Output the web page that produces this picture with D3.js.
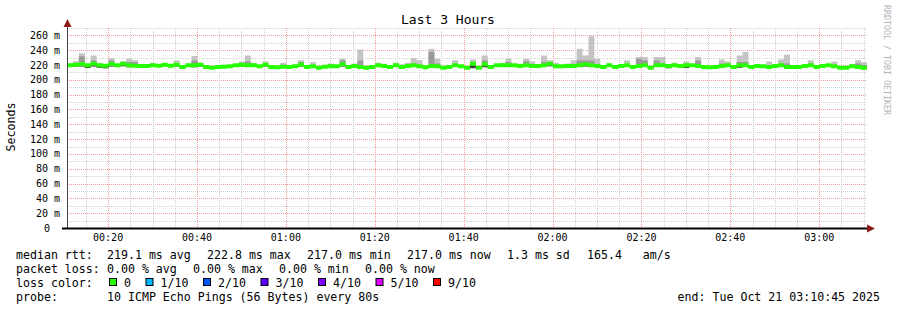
<!DOCTYPE html>
<html>
<head>
<meta charset="utf-8">
<script src="https://cdn.jsdelivr.net/npm/d3@7"></script>
<style>
  body { margin: 0; background: #fff; }
  text { font-family: "DejaVu Sans Mono", monospace; white-space: pre; }
</style>
</head>
<body>
<div id="chart"></div>
<script>
// smokeping "Last 3 Hours", one sample every 80 s
var endTime = new Date(2025, 9, 21, 3, 10, 45);
var stepSec = 80;

var median = [
  219.6, 220.4, 221.3, 219.6, 221.8, 219.6, 219.1, 221.3, 219.6, 221.8,
  219.6, 219.1, 218.7, 218.7, 219.6, 219.1, 220.4, 219.1, 220.4, 217.3,
  219.6, 219.6, 220.4, 217.3, 216.4, 217.3, 217.8, 218.2, 219.6, 220.4,
  219.6, 219.6, 218.2, 220.4, 217.3, 216.9, 217.8, 217.3, 218.2, 220.4,
  217.3, 218.2, 216.4, 217.8, 218.2, 218.2, 220.9, 217.3, 218.7,
  217.3, 216.4, 217.3, 219.6, 218.7, 217.3, 219.6, 217.3, 218.7, 219.6,
  218.2, 216.9, 218.7, 218.2, 216.4, 217.3, 219.6, 218.2, 216.4, 221.8,
  216.4, 220.9, 217.3, 219.6, 219.6, 219.6, 219.6, 218.7, 219.6, 218.7,
  218.7, 219.6, 221.8, 218.2, 218.2, 218.7, 218.7, 219.6, 220.9, 219.6,
  218.7, 217.3, 219.6, 217.3, 218.7, 219.6, 217.3, 218.7, 219.6,
  216.4, 219.6, 219.6, 218.7, 219.6, 218.7, 219.6, 219.6, 218.7, 217.3,
  216.9, 217.3, 218.7, 219.6, 217.3, 219.6, 219.6, 217.3, 218.7, 218.2,
  217.3, 218.7, 219.6, 217.3, 217.3, 217.3, 218.7, 219.6, 217.3, 218.7,
  219.6, 218.2, 216.4, 216.4, 218.2, 217.3, 216.4
];
var rttMax = [
  221.5, 225.0, 236.0, 221.0, 233.0, 222.7, 220.0, 229.4, 220.5, 225.0,
  228.5, 226.3, 219.5, 219.5, 222.7, 220.0, 222.2, 220.0, 226.3, 218.5,
  220.5, 232.1, 223.1, 218.0, 217.0, 218.0, 220.4, 219.5, 221.3, 224.9,
  233.0, 223.1, 219.5, 224.9, 218.5, 218.0, 223.1, 218.5, 220.4, 226.3,
  218.5, 223.6, 217.5, 218.5, 222.2, 219.0, 228.5, 218.5, 222.2,
  241.0, 218.0, 218.5, 223.0, 221.8, 218.5, 223.1, 220.9, 223.1, 229.4,
  226.3, 218.0, 242.0, 228.5, 218.0, 218.5, 226.3, 219.5, 217.5, 227.6,
  217.5, 233.0, 218.5, 221.0, 223.1, 228.5, 220.5, 221.8, 228.5, 224.9,
  219.8, 233.0, 226.3, 223.0, 219.5, 222.0, 226.3, 242.0, 233.0, 259.0,
  228.5, 218.5, 221.0, 218.5, 219.8, 226.3, 218.5, 230.8, 230.8,
  218.0, 230.8, 230.8, 220.0, 223.1, 219.8, 224.9, 220.5, 230.8, 218.5,
  218.0, 219.6, 227.6, 224.9, 218.5, 233.0, 237.5, 218.5, 219.8, 219.5,
  224.9, 219.8, 227.6, 234.0, 218.5, 218.5, 219.8, 226.3, 218.5, 219.8,
  220.4, 224.9, 217.5, 217.5, 221.5, 226.3, 223.6
];
var rttUpper = [
  220.5, 222.0, 231.7, 220.0, 226.0, 220.5, 219.5, 226.0, 220.0, 222.5,
  224.0, 224.0, 219.0, 219.0, 220.5, 219.5, 221.0, 219.5, 222.0, 218.0,
  220.0, 226.0, 222.0, 217.5, 216.8, 217.5, 218.5, 218.8, 220.0, 222.0,
  224.9, 221.0, 218.8, 221.0, 218.0, 217.5, 220.4, 218.0, 219.0, 224.0,
  218.0, 219.0, 217.0, 218.2, 221.5, 218.6, 226.3, 218.0, 219.5,
  226.0, 217.0, 218.0, 220.5, 219.5, 218.0, 220.5, 218.5, 219.5, 222.0,
  220.0, 217.5, 238.0, 222.0, 217.0, 218.0, 221.0, 218.8, 217.0, 224.0,
  217.0, 226.0, 218.0, 220.0, 221.0, 224.0, 220.0, 219.5, 225.0, 221.0,
  219.2, 224.0, 224.0, 219.5, 218.8, 219.5, 220.0, 226.0, 226.0, 226.0,
  221.0, 218.0, 220.0, 218.0, 219.2, 221.0, 218.0, 228.0, 226.0,
  217.0, 226.0, 222.0, 219.0, 220.5, 219.2, 222.0, 220.0, 226.0, 218.0,
  217.5, 219.0, 222.0, 222.0, 218.0, 224.0, 224.0, 218.0, 219.2, 218.8,
  220.0, 219.2, 222.0, 222.0, 218.0, 218.0, 219.2, 222.0, 218.0, 219.2,
  220.0, 220.0, 217.0, 217.0, 220.5, 222.0, 220.0
];
var rttMin = [
  217.5, 218.0, 218.0, 216.0, 218.0, 216.5, 215.5, 218.0, 218.0, 218.5,
  217.0, 217.5, 216.0, 216.0, 217.5, 218.0, 218.5, 218.0, 218.0, 216.0,
  218.0, 217.0, 218.0, 216.5, 215.5, 216.5, 216.5, 217.0, 218.0, 218.0,
  218.0, 217.5, 217.0, 218.0, 216.5, 216.0, 216.5, 216.5, 217.0, 218.0,
  216.5, 217.0, 215.5, 217.0, 217.0, 217.5, 218.0, 216.5, 217.0,
  215.0, 215.5, 216.0, 218.0, 217.0, 215.5, 218.0, 215.0, 217.0, 218.0,
  216.5, 215.5, 216.0, 216.5, 215.5, 216.0, 218.0, 217.0, 215.5, 215.5,
  215.5, 217.0, 216.0, 218.5, 218.0, 218.0, 218.5, 217.5, 218.0, 217.0,
  217.5, 218.0, 218.5, 217.0, 217.0, 217.5, 217.0, 218.0, 218.0, 218.0,
  217.0, 216.0, 218.0, 216.0, 217.5, 218.0, 216.0, 217.0, 218.0,
  215.0, 217.5, 217.5, 215.5, 218.0, 217.5, 216.0, 218.0, 217.0, 216.0,
  216.0, 216.0, 217.0, 218.0, 216.0, 216.5, 218.0, 216.0, 217.5, 217.0,
  216.0, 217.5, 218.0, 216.0, 216.0, 216.0, 217.5, 217.5, 216.0, 217.5,
  218.0, 216.5, 215.5, 215.5, 216.5, 216.0, 215.5
];

var yTicks = [0, 20, 40, 60, 80, 100, 120, 140, 160, 180, 200, 220, 240, 260];
var rttStats = ["219.1 ms avg", "222.8 ms max", "217.0 ms min", "217.0 ms now", "1.3 ms sd", "165.4   am/s"];
var lossStats = ["0.00 % avg", "0.00 % max", "0.00 % min", "0.00 % now"];
var lossLabels = ["0", "1/10", "2/10", "3/10", "4/10", "5/10", "9/10"];
var lossColors = ["#26ff00", "#00b8ff", "#0059ff", "#5e00ff", "#7e00ff", "#dd00ff", "#ff0000"];

var width = 897, height = 310;
var plotL = 67, plotR = 867, plotT = 28, plotB = 228;
var startTime = new Date(endTime.getTime() - 3 * 3600 * 1000);

var svg = d3.select("#chart").append("svg")
    .attr("width", width)
    .attr("height", height);

svg.append("rect").attr("width", width).attr("height", height).attr("fill", "#fff");

var x = d3.scaleTime().domain([startTime, endTime]).range([plotL, plotR]);
var y = d3.scaleLinear().domain([0, 270]).range([plotB, plotT]);

// grid: minor grey every 10 ms / 5 min, major red every 20 ms / 20 min
var grid = svg.append("g");
var gridY = d3.range(0, 271, 10);
grid.selectAll(".gy").data(gridY).enter().append("line")
    .attr("x1", plotL).attr("x2", plotR)
    .attr("y1", d => Math.round(y(d)) + 0.5).attr("y2", d => Math.round(y(d)) + 0.5)
    .attr("stroke", d => d % 20 === 0 ? "#f29a9a" : "#d2d2d2")
    .attr("stroke-dasharray", "1,1");
var gridX = d3.timeMinute.every(5).range(startTime, endTime);
grid.selectAll(".gx").data(gridX).enter().append("line")
    .attr("y1", plotT).attr("y2", plotB)
    .attr("x1", d => Math.round(x(d)) + 0.5).attr("x2", d => Math.round(x(d)) + 0.5)
    .attr("stroke", d => d.getMinutes() % 20 === 0 ? "#f29a9a" : "#d2d2d2")
    .attr("stroke-dasharray", "1,1");

// step data
var n = median.length;
var steps = median.map(function(m, i) {
  return {
    t: new Date(endTime.getTime() - (n - i) * stepSec * 1000),
    med: m, lo: rttMin[i], hi: rttMax[i], up: rttUpper[i]
  };
});
steps.push(Object.assign({}, steps[n - 1], { t: endTime }));

var smokeOuter = d3.area().curve(d3.curveStepAfter)
    .x(d => x(d.t)).y0(d => y(d.lo)).y1(d => y(d.hi));
var smokeInner = d3.area().curve(d3.curveStepAfter)
    .x(d => x(d.t)).y0(d => y(d.med)).y1(d => y(d.up));
var smokeLow = d3.area().curve(d3.curveStepAfter)
    .x(d => x(d.t)).y0(d => y(d.lo)).y1(d => y(d.med));
var medBand = d3.area().curve(d3.curveStepAfter)
    .x(d => x(d.t)).y0(d => y(d.med) + 2).y1(d => y(d.med) - 2);

svg.append("path").datum(steps).attr("d", smokeOuter).attr("fill", "#c4c4c4");
svg.append("path").datum(steps).attr("d", smokeInner).attr("fill", "#9a9a9a");
svg.append("path").datum(steps).attr("d", smokeLow).attr("fill", "#404040");
svg.append("path").datum(steps).attr("d", medBand).attr("fill", lossColors[0]);

// axes
svg.append("line").attr("x1", plotL + 0.5).attr("x2", plotL + 0.5)
    .attr("y1", plotB).attr("y2", 24).attr("stroke", "#444");
svg.append("line").attr("x1", 62).attr("x2", plotR + 1)
    .attr("y1", plotB + 0.5).attr("y2", plotB + 0.5)
    .attr("stroke", "#000").attr("stroke-width", 2);
svg.append("path").attr("d", "M63.5,27 L71.5,27 L67.5,19 Z").attr("fill", "#8b1a1a");
svg.append("path").attr("d", "M867,224.5 L867,232.5 L875,228.5 Z").attr("fill", "#8b1a1a");

// y labels
svg.append("g").selectAll("text").data(yTicks).enter().append("text")
    .attr("x", d => d === 0 ? 50 : 60)
    .attr("y", d => y(d) + 3.5)
    .attr("text-anchor", "end")
    .attr("font-size", "10px")
    .text(d => d === 0 ? "0" : d + " m");

// x labels
var xTicks = d3.timeMinute.every(20).range(startTime, endTime);
svg.append("g").selectAll("text").data(xTicks).enter().append("text")
    .attr("x", d => x(d))
    .attr("y", 241)
    .attr("text-anchor", "middle")
    .attr("font-size", "10px")
    .text(d3.timeFormat("%H:%M"));

// title, axis title, watermark
svg.append("text").attr("x", 448).attr("y", 24).attr("text-anchor", "middle")
    .attr("font-size", "13px").text("Last 3 Hours");
svg.append("text").attr("transform", "translate(15,127) rotate(-90)")
    .attr("text-anchor", "middle").attr("font-size", "11.6px").text("Seconds");
svg.append("text").attr("transform", "translate(884,5) rotate(90)")
    .attr("font-size", "8.3px").attr("fill", "#b4b4b4").text("RRDTOOL / TOBI OETIKER");

// legend
var fs = "11.6px";
var leg = svg.append("g").attr("font-size", fs);
leg.append("text").attr("x", 16).attr("y", 259).text("median rtt:");
leg.selectAll(".rs").data(rttStats).enter().append("text")
    .attr("x", (d, i) => 107 + i * 100 - (i === 5 ? 20 : 0)).attr("y", 259).text(d => d);
leg.append("text").attr("x", 16).attr("y", 273).text("packet loss:");
leg.selectAll(".ls").data(lossStats).enter().append("text")
    .attr("x", (d, i) => 107 + i * 86).attr("y", 273).text(d => d);
leg.append("text").attr("x", 16).attr("y", 287).text("loss color:");
var bx = 109;
lossLabels.forEach(function(lab, i) {
  leg.append("rect").attr("x", bx + 0.5).attr("y", 278.5).attr("width", 7).attr("height", 7)
      .attr("fill", lossColors[i]).attr("stroke", "#000");
  leg.append("text").attr("x", bx + 15).attr("y", 287).text(lab);
  bx = bx + 15 + lab.length * 7 + 14.5;
});
leg.append("text").attr("x", 16).attr("y", 301).text("probe:");
leg.append("text").attr("x", 107).attr("y", 301).text("10 ICMP Echo Pings (56 Bytes) every 80s");
leg.append("text").attr("x", 880).attr("y", 301).attr("text-anchor", "end")
    .text("end: Tue Oct 21 03:10:45 2025");
</script>
</body>
</html>
